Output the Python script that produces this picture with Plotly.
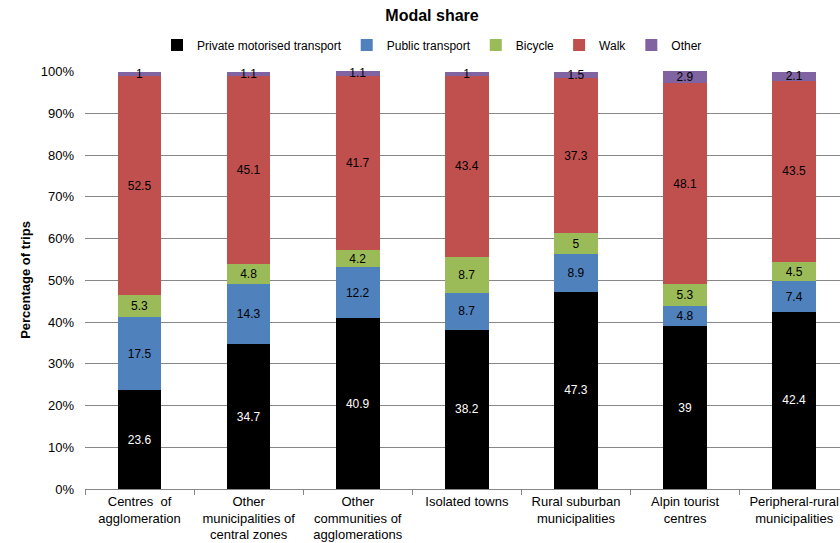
import plotly.graph_objects as go

categories = [
    "Centres  of<br>agglomeration",
    "Other<br>municipalities of<br>central zones",
    "Other<br>communities of<br>agglomerations",
    "Isolated towns",
    "Rural suburban<br>municipalities",
    "Alpin tourist<br>centres",
    "Peripheral-rural<br>municipalities",
]

private_motorised = [23.6, 34.7, 40.9, 38.2, 47.3, 39, 42.4]
public_transport = [17.5, 14.3, 12.2, 8.7, 8.9, 4.8, 7.4]
bicycle = [5.3, 4.8, 4.2, 8.7, 5, 5.3, 4.5]
walk = [52.5, 45.1, 41.7, 43.4, 37.3, 48.1, 43.5]
other = [1, 1.1, 1.1, 1, 1.5, 2.9, 2.1]

y_ticks = [0, 10, 20, 30, 40, 50, 60, 70, 80, 90, 100]

series = [
    ("Private motorised transport", private_motorised, "#000000", "#ffffff"),
    ("Public transport", public_transport, "#4F81BD", "#000000"),
    ("Bicycle", bicycle, "#9BBB59", "#000000"),
    ("Walk", walk, "#C0504D", "#000000"),
    ("Other", other, "#8064A2", "#000000"),
]

FONT = "Liberation Sans, Arial, sans-serif"

fig = go.Figure()
for name, values, color, text_color in series:
    fig.add_trace(go.Bar(
        name=name,
        x=categories,
        y=values,
        marker=dict(color=color, line=dict(width=0)),
        text=[f"{v:g}" for v in values],
        textposition="inside",
        insidetextanchor="middle",
        textangle=0,
        constraintext="none",
        textfont=dict(family=FONT, size=12, color=text_color),
        cliponaxis=False,
    ))

fig.update_layout(
    width=840,
    height=543,
    barmode="stack",
    bargap=0.6,
    uniformtext=dict(mode="show", minsize=12),
    plot_bgcolor="#ffffff",
    paper_bgcolor="#ffffff",
    margin=dict(l=85, r=0, t=71, b=54),
    font=dict(family=FONT, size=13, color="#000000"),
    title=dict(
        text="<b>Modal share</b>",
        font=dict(family=FONT, size=16, color="#000000"),
        x=432 / 840, xref="container", xanchor="center",
        y=1 - 15 / 543, yref="container", yanchor="middle",
    ),
    legend=dict(
        orientation="h",
        traceorder="normal",
        x=432 / 840, xref="container", xanchor="center",
        y=1 - 45 / 543, yref="container", yanchor="middle",
        font=dict(family=FONT, size=12, color="#000000"),
        itemwidth=30,
        tracegroupgap=0,
    ),
    showlegend=True,
)

fig.update_xaxes(
    range=[-0.5, 6.42],
    showline=True,
    linecolor="#878787",
    linewidth=1,
    ticks="outside",
    tickson="boundaries",
    ticklen=5,
    tickcolor="#878787",
    showgrid=False,
    tickfont=dict(family=FONT, size=13, color="#000000"),
)

# stacks sum to 100 +/- 0.1 (rounded shares), so leave a hair of headroom
fig.update_yaxes(
    range=[0, 100.12],
    tickvals=y_ticks,
    ticktext=[f"{t}%" for t in y_ticks],
    showgrid=True,
    gridcolor="#878787",
    gridwidth=1,
    showline=False,
    zeroline=False,
    ticks="",
    ticklabelstandoff=10,
    tickfont=dict(family=FONT, size=13, color="#000000"),
    title=dict(
        text="<b>Percentage of trips</b>",
        font=dict(family=FONT, size=13, color="#000000"),
        standoff=7,
    ),
)

fig.write_html("out.html")
